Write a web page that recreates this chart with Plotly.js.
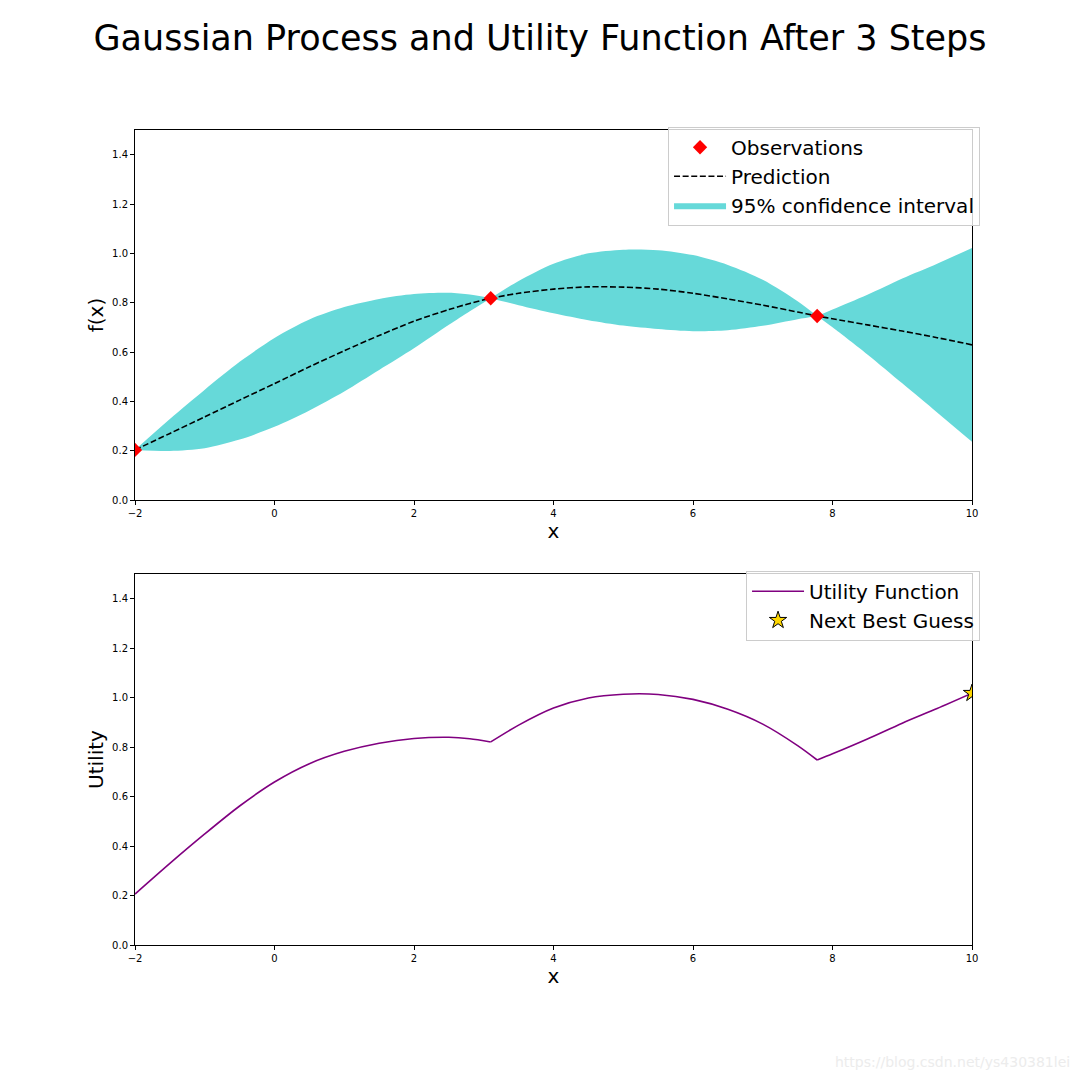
<!DOCTYPE html>
<html>
<head>
<meta charset="utf-8">
<script src="https://cdn.plot.ly/plotly-3.0.1.min.js"></script>
<style>html,body{margin:0;padding:0;background:#fff;}#chart{width:1080px;height:1080px;}</style>
</head>
<body>
<div id="chart"></div>
<script>
// ---- data ----
const obsX = [-2, 3.1, 7.78];
const obsY = [0.203, 0.818, 0.746];

const gridX = [-2, -1.5, -1, -0.5, 0, 0.5, 1, 1.5, 2, 2.5, 2.8, 3.1, 3.5, 4, 4.5, 5, 5.5, 6, 6.5, 7, 7.5, 7.78, 8, 8.5, 9, 9.5, 10];
const meanY = [0.203, 0.27, 0.337, 0.405, 0.472, 0.54, 0.605, 0.667, 0.725, 0.772, 0.797, 0.818, 0.838, 0.855, 0.864, 0.863, 0.855, 0.838, 0.815, 0.79, 0.762, 0.746, 0.735, 0.71, 0.685, 0.658, 0.629];
const upperY = [0.203, 0.328, 0.447, 0.56, 0.657, 0.732, 0.782, 0.815, 0.835, 0.840, 0.833, 0.818, 0.888, 0.958, 1.0, 1.015, 1.013, 0.993, 0.953, 0.893, 0.806, 0.746, 0.772, 0.832, 0.898, 0.958, 1.022];
const lowerY = [0.203, 0.199, 0.21, 0.245, 0.297, 0.363, 0.44, 0.527, 0.615, 0.71, 0.765, 0.818, 0.79, 0.757, 0.729, 0.707, 0.693, 0.684, 0.688, 0.706, 0.733, 0.746, 0.70, 0.59, 0.473, 0.355, 0.236];
const utilityY = [0.206, 0.33, 0.449, 0.562, 0.659, 0.733, 0.783, 0.816, 0.835, 0.840, 0.834, 0.821, 0.889, 0.958, 0.999, 1.014, 1.013, 0.993, 0.953, 0.893, 0.806, 0.748, 0.773, 0.833, 0.897, 0.956, 1.018];
const segmentBreaks = [0, 11, 21, 26];   // indices of the observation points in gridX (segment ends)
const bestX = [10];
const bestY = [1.018];

const xTicks = [-2, 0, 2, 4, 6, 8, 10];
const yTicks = [0.0, 0.2, 0.4, 0.6, 0.8, 1.0, 1.2, 1.4];

// ---- figure ----
const CI_COLOR = 'rgb(102,217,217)';
const traces = [];
for (let s = 0; s < segmentBreaks.length - 1; s++) {
  const a = segmentBreaks[s], b = segmentBreaks[s + 1] + 1;
  traces.push({x: gridX.slice(a, b), y: lowerY.slice(a, b), type: 'scatter', mode: 'lines',
    line: {width: 0, color: CI_COLOR, shape: 'spline', smoothing: 0.8}, showlegend: false,
    xaxis: 'x', yaxis: 'y', hoverinfo: 'skip'});
  traces.push({x: gridX.slice(a, b), y: upperY.slice(a, b), type: 'scatter', mode: 'lines', fill: 'tonexty',
    fillcolor: CI_COLOR, line: {width: 0, color: CI_COLOR, shape: 'spline', smoothing: 0.8},
    name: '95% confidence interval', showlegend: s === 0, legendgroup: 'ci', legendrank: 3, legend: 'legend',
    xaxis: 'x', yaxis: 'y', hoverinfo: 'skip'});
}
traces.push({x: gridX, y: meanY, type: 'scatter', mode: 'lines',
  line: {color: 'black', width: 1.6, dash: '6px,2.6px', shape: 'spline', smoothing: 0.8},
  name: 'Prediction', legendrank: 2, legend: 'legend', xaxis: 'x', yaxis: 'y'});
traces.push({x: obsX, y: obsY, type: 'scatter', mode: 'markers', marker: {symbol: 'diamond', color: 'red', size: 11},
  name: 'Observations', legendrank: 1, legend: 'legend', xaxis: 'x', yaxis: 'y', cliponaxis: true});
for (let s = 0; s < segmentBreaks.length - 1; s++) {
  const a = segmentBreaks[s], b = segmentBreaks[s + 1] + 1;
  traces.push({x: gridX.slice(a, b), y: utilityY.slice(a, b), type: 'scatter', mode: 'lines',
    line: {color: 'purple', width: 1.6, shape: 'spline', smoothing: 0.8},
    name: 'Utility Function', showlegend: s === 0, legendgroup: 'util', legendrank: 1, legend: 'legend2',
    xaxis: 'x2', yaxis: 'y2'});
}
traces.push({x: bestX, y: bestY, type: 'scatter', mode: 'markers',
  marker: {symbol: 'star', color: 'gold', size: 13, line: {color: 'black', width: 1}},
  name: 'Next Best Guess', legendrank: 2, legend: 'legend2', xaxis: 'x2', yaxis: 'y2', cliponaxis: true});

const font = 'DejaVu Sans, sans-serif';
function xaxisDef(anchor) {
  return {
    range: [-2, 10], tickvals: xTicks, ticks: 'outside', ticklen: 4, tickwidth: 1, tickcolor: 'black',
    showline: true, linecolor: 'black', linewidth: 1, mirror: true, showgrid: false, zeroline: false,
    tickfont: {family: font, size: 10, color: 'black'}, anchor: anchor,
    title: {text: 'x', font: {family: font, size: 20, color: 'black'}, standoff: 3}
  };
}
function yaxisDef(anchor, domain, label) {
  return {
    range: [0, 1.5], tickvals: yTicks, tickformat: '.1f', ticks: 'outside', ticklen: 4, tickwidth: 1, tickcolor: 'black',
    showline: true, linecolor: 'black', linewidth: 1, mirror: true, showgrid: false, zeroline: false,
    tickfont: {family: font, size: 10, color: 'black'}, anchor: anchor, domain: domain,
    title: {text: label, font: {family: font, size: 20, color: 'black'}, standoff: 3}
  };
}

const legendBase = {xanchor: 'right', yanchor: 'top', bgcolor: 'rgba(255,255,255,0.8)',
  bordercolor: '#cccccc', borderwidth: 1, font: {family: font, size: 20, color: 'black'},
  tracegroupgap: 0, itemwidth: 52};

const layout = {
  width: 1080, height: 1080,
  paper_bgcolor: 'white', plot_bgcolor: 'white',
  margin: {l: 135, r: 108, t: 130, b: 135},
  font: {family: font, color: 'black'},
  title: {text: 'Gaussian Process and Utility Function After 3 Steps', font: {family: font, size: 35, color: 'black'},
          x: 0.5, xanchor: 'center', y: 1 - 38/1080, yanchor: 'middle', yref: 'container'},
  xaxis: xaxisDef('y'),
  yaxis: yaxisDef('x', [0.546, 1], 'f(x)'),
  xaxis2: xaxisDef('y2'),
  yaxis2: yaxisDef('x2', [0, 0.4552], 'Utility'),
  showlegend: true,
  legend: Object.assign({x: 1.0096, y: 1.004}, legendBase),
  legend2: Object.assign({x: 1.0096, y: 0.4592}, legendBase),
  annotations: [
    {text: 'https://blog.csdn.net/ys430381lei', xref: 'paper', yref: 'paper', x: 1.1195, y: -0.1436,
     xanchor: 'right', yanchor: 'middle', showarrow: false, font: {family: font, size: 14, color: '#ececec'}}
  ]
};

Plotly.newPlot('chart', traces, layout, {displayModeBar: false, staticPlot: true});
</script>
</body>
</html>
